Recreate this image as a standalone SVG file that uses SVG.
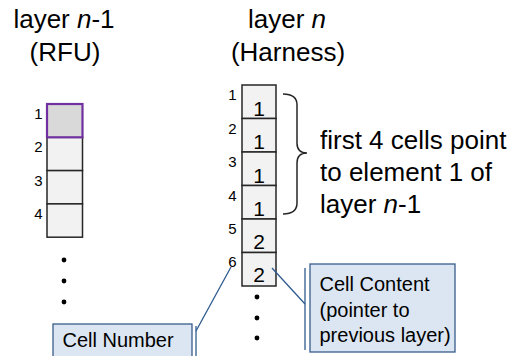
<svg xmlns="http://www.w3.org/2000/svg" width="522" height="356" viewBox="0 0 522 356">
<style>
text{font-family:"Liberation Sans",Arial,sans-serif;fill:#000}
.t26{font-size:26px}
.lab{font-size:15px;text-anchor:end}
.dig{font-size:21px;text-anchor:middle}
.cell{fill:#f2f2f2;stroke:#262626;stroke-width:1.5}
.sel{fill:#d9d9d9;stroke:#7030a0;stroke-width:2.2}
.dot{fill:#000}
.box{fill:#dce6f2;stroke:#385d8a;stroke-width:1.3}
.lead{fill:none;stroke:#2f5b8f;stroke-width:1.3}
.brace{fill:none;stroke:#262626;stroke-width:1.5}
.ct{font-size:20px}
</style>
<rect width="522" height="356" fill="#fff"/>

<g id="title-left">
<text class="t26" x="64" y="28" text-anchor="middle">layer <tspan font-style="italic">n</tspan>-1</text>
<text class="t26" x="65" y="61" text-anchor="middle">(RFU)</text>
</g>
<g id="title-right">
<text class="t26" x="287" y="28" text-anchor="middle">layer <tspan font-style="italic">n</tspan></text>
<text class="t26" x="288" y="61" text-anchor="middle">(Harness)</text>
</g>

<g id="left-column">
<rect class="cell" x="47" y="137.3" width="35.5" height="33.3"/>
<rect class="cell" x="47" y="170.6" width="35.5" height="33.3"/>
<rect class="cell" x="47" y="203.9" width="35.5" height="33.3"/>
<rect class="sel" x="47" y="104" width="35.5" height="33.3"/>
<text class="lab" x="42.5" y="118.5">1</text>
<text class="lab" x="42.5" y="152">2</text>
<text class="lab" x="42.5" y="185.5">3</text>
<text class="lab" x="42.5" y="218.5">4</text>
<circle class="dot" cx="64" cy="260" r="2.4"/>
<circle class="dot" cx="64" cy="281" r="2.4"/>
<circle class="dot" cx="64" cy="302" r="2.4"/>
</g>

<g id="right-column">
<rect class="cell" x="242" y="85" width="34" height="33.5"/>
<rect class="cell" x="242" y="118.5" width="34" height="33.5"/>
<rect class="cell" x="242" y="152" width="34" height="33.5"/>
<rect class="cell" x="242" y="185.5" width="34" height="33.5"/>
<rect class="cell" x="242" y="219" width="34" height="33.5"/>
<rect class="cell" x="242" y="252.5" width="34" height="33.5"/>
<text class="dig" x="259" y="115.5">1</text>
<text class="dig" x="259" y="149">1</text>
<text class="dig" x="259" y="182.5">1</text>
<text class="dig" x="259" y="216">1</text>
<text class="dig" x="259" y="248.5">2</text>
<text class="dig" x="259" y="282">2</text>
<text class="lab" x="236.5" y="100">1</text>
<text class="lab" x="236.5" y="133.5">2</text>
<text class="lab" x="236.5" y="167">3</text>
<text class="lab" x="236.5" y="200.5">4</text>
<text class="lab" x="236.5" y="234">5</text>
<text class="lab" x="236.5" y="267">6</text>
<circle class="dot" cx="257" cy="297" r="2.4"/>
<circle class="dot" cx="257" cy="318" r="2.4"/>
<circle class="dot" cx="257" cy="338" r="2.4"/>
</g>

<g id="brace-note">
<path class="brace" d="M283,94 Q297,94 297,105 L297,143 Q297,153 307,153 Q297,153 297,163 L297,203 Q297,214 283,214"/>
<text class="t26" x="320" y="149">first 4 cells point</text>
<text class="t26" x="320" y="181">to element 1 of</text>
<text class="t26" x="320" y="213">layer <tspan font-style="italic">n</tspan>-1</text>
</g>

<g id="connectors">
<line class="lead" x1="305" y1="304" x2="272" y2="268"/>
<line class="lead" x1="305" y1="268" x2="305" y2="350"/>
<line class="lead" x1="196" y1="331" x2="231" y2="267"/>
<line class="lead" x1="196" y1="326" x2="196" y2="360"/>
</g>

<g id="callout-content">
<rect class="box" x="310" y="264" width="145" height="88"/>
<text class="ct" x="319.5" y="291">Cell Content</text>
<text class="ct" x="319.5" y="316.5">(pointer to</text>
<text class="ct" x="319.5" y="342">previous layer)</text>
</g>

<g id="callout-number">
<rect class="box" x="53" y="324" width="139" height="40"/>
<text class="ct" x="62.5" y="347">Cell Number</text>
</g>
</svg>
